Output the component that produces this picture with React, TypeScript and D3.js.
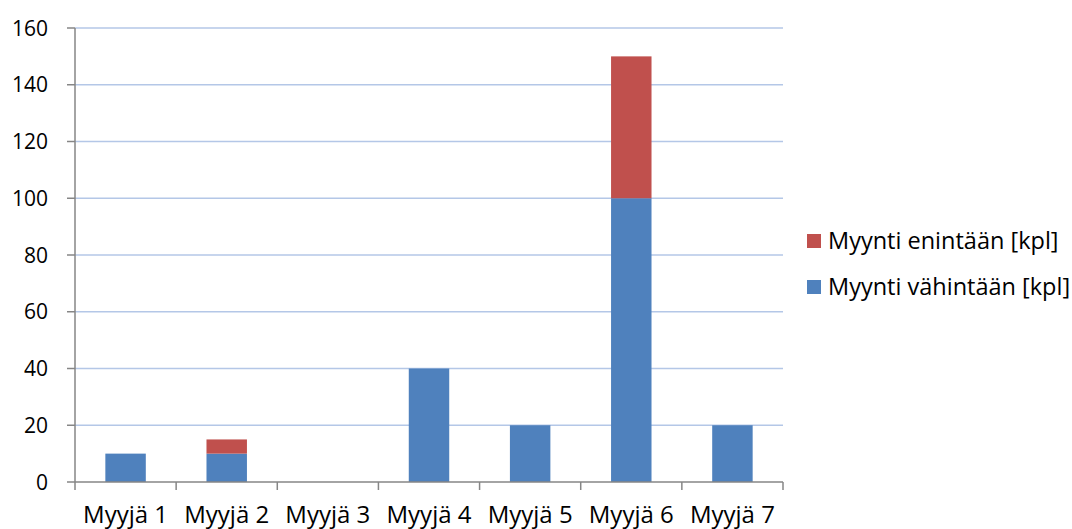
import React from 'react';
import * as d3 from 'd3';

const categories = ['Myyjä 1', 'Myyjä 2', 'Myyjä 3', 'Myyjä 4', 'Myyjä 5', 'Myyjä 6', 'Myyjä 7'];
const minSales = [10, 10, 0, 40, 20, 100, 20];
const maxExtra = [0, 5, 0, 0, 0, 50, 0];
const yTicks = [0, 20, 40, 60, 80, 100, 120, 140, 160];
const seriesNames = ['Myynti enintään [kpl]', 'Myynti vähintään [kpl]'];
const seriesColors = ['#C0504D', '#4F81BD'];

const W = 1072;
const H = 529;
const left = 75;
const right = 783;
const top = 28;
const bottom = 482;
const font = '"Open Sans", sans-serif';

export default function App() {
  const x = d3.scaleBand<string>().domain(categories).range([left, right]).paddingInner(0.6).paddingOuter(0.3);
  const bandStep = (right - left) / categories.length;
  const y = d3.scaleLinear().domain([0, 160]).range([bottom, top]);

  const rows = categories.map((c, i) => ({ cat: c, min: minSales[i], extra: maxExtra[i] }));
  const stacked = d3.stack<any>().keys(['min', 'extra'])(rows);

  return (
    <svg width={W} height={H} style={{ position: 'absolute', left: 0, top: 0, background: '#fff' }}>
      {/* gridlines */}
      {yTicks.filter(t => t > 0).map(t => (
        <line key={t} x1={left} x2={right} y1={y(t)} y2={y(t)} stroke="#B4C7E7" strokeWidth={1.5} />
      ))}
      {/* bars */}
      {stacked.map((s, si) => (
        <g key={si} fill={si === 0 ? seriesColors[1] : seriesColors[0]}>
          {s.map((d, i) => d[1] - d[0] > 0 ? (
            <rect key={i} x={x(categories[i])} width={x.bandwidth()} y={y(d[1])} height={y(d[0]) - y(d[1])} />
          ) : null)}
        </g>
      ))}
      {/* y axis */}
      <line x1={left} x2={left} y1={top} y2={bottom} stroke="#868686" strokeWidth={1.5} />
      {yTicks.map(t => (
        <g key={t}>
          <line x1={left - 8} x2={left} y1={y(t)} y2={y(t)} stroke="#868686" strokeWidth={1.5} />
          <text x={48} y={y(t)} dy="0.36em" textAnchor="end" fontFamily={font} fontSize={21} fill="#000">{t}</text>
        </g>
      ))}
      {/* x axis */}
      <line x1={left} x2={right} y1={bottom} y2={bottom} stroke="#868686" strokeWidth={1.5} />
      {d3.range(categories.length + 1).map(i => (
        <line key={i} x1={left + i * bandStep} x2={left + i * bandStep} y1={bottom} y2={bottom + 8} stroke="#868686" strokeWidth={1.5} />
      ))}
      {categories.map(c => (
        <text key={c} x={(x(c) as number) + x.bandwidth() / 2} y={523} textAnchor="middle" fontFamily={font} fontSize={24} fill="#000">{c}</text>
      ))}
      {/* legend */}
      {seriesNames.map((n, i) => (
        <g key={n} transform={`translate(807, ${241 + i * 46})`}>
          <rect x={0} y={-7} width={14} height={14} fill={seriesColors[i]} />
          <text x={21} y={0} dy="0.36em" fontFamily={font} fontSize={23.5} fill="#000">{n}</text>
        </g>
      ))}
    </svg>
  );
}
